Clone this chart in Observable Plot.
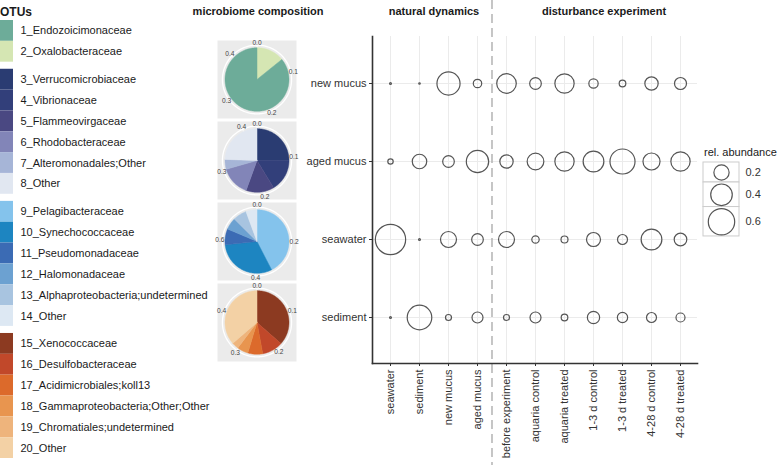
<!DOCTYPE html>
<html><head><meta charset="utf-8">
<script src="https://cdn.jsdelivr.net/npm/d3@7"></script>
<script src="https://cdn.jsdelivr.net/npm/@observablehq/plot@0.6"></script>
<style>
body{margin:0;background:#fff;font-family:"Liberation Sans",Arial,sans-serif;}
#chart{position:relative;width:777px;height:465px;overflow:hidden;background:#fff;}
.box{position:absolute;}
.ttl{position:absolute;font-weight:bold;font-size:11px;line-height:14px;color:#1a1a1a;white-space:nowrap;}
</style></head><body><div id="chart"></div>
<script>
// ---------- data ----------
const otuNames = ["1_Endozoicimonaceae","2_Oxalobacteraceae","3_Verrucomicrobiaceae","4_Vibrionaceae","5_Flammeovirgaceae","6_Rhodobacteraceae","7_Alteromonadales;Other","8_Other","9_Pelagibacteraceae","10_Synechococcaceae","11_Pseudomonadaceae","12_Halomonadaceae","13_Alphaproteobacteria;undetermined","14_Other","15_Xenococcaceae","16_Desulfobacteraceae","17_Acidimicrobiales;koll13","18_Gammaproteobacteria;Other;Other","19_Chromatiales;undetermined","20_Other"];
const otuColors = ["#6dac99","#d5e6b3","#2a3c72","#323f7a","#4a4882","#8285b8","#a6b5d7","#e1e7f1","#84c3ec","#1d85c1","#3b6bb4","#6ca1d1","#a8c4e0","#dde8f3","#8c3a21","#c1482a","#dc6a2b","#e8954f","#eeb47c","#f3d1a5"];
const otuGroup = [0,0,1,1,1,1,1,1,2,2,2,2,2,2,3,3,3,3,3,3];

const sampleRows = ["new mucus","aged mucus","seawater","sediment"];
const columns = ["seawater","sediment","new mucus","aged mucus","before experiment","aquaria control","aquaria treated","1-3 d control","1-3 d treated","4-28 d control","4-28 d treated"];

const abundNewMucus  = [0.003,0.002,0.46,0.061,0.33,0.117,0.32,0.075,0.038,0.153,0.124];
const abundAgedMucus = [0.025,0.18,0.117,0.43,0.153,0.24,0.32,0.37,0.54,0.25,0.32];
const abundSeawater  = [0.79,0.003,0.22,0.117,0.22,0.047,0.042,0.169,0.086,0.37,0.137];
const abundSediment  = [0.003,0.52,0.031,0.104,0.031,0.104,0.038,0.13,0.092,0.086,0.07];

const pieNewMucusOtu  = [2,1];
const pieNewMucusVal  = [0.065,0.395];
const pieAgedMucusOtu = [3,4,5,6,7,8];
const pieAgedMucusVal = [0.1075,0.070,0.061,0.0645,0.0215,0.105];
const pieSeawaterOtu  = [9,10,11,12,13,14];
const pieSeawaterVal  = [0.336,0.244,0.064,0.048,0.055,0.044];
const pieSedimentOtu  = [15,16,17,18,19,20];
const pieSedimentVal  = [0.183,0.053,0.0375,0.028,0.017,0.182];
const pieTicksSmall = [0,0.1,0.2,0.3,0.4];
const pieTicksLarge = [0,0.2,0.4,0.6];

const sizeLegendValues = [0.2,0.4,0.6];
const groupLabels = ["microbiome composition","natural dynamics","disturbance experiment"];

// ---------- helpers ----------
const chart = document.getElementById("chart");
function place(node, left, top){ const d=document.createElement("div"); d.className="box"; d.style.left=left+"px"; d.style.top=top+"px"; d.appendChild(node); chart.appendChild(d); }
function title(text, x, top, opts={}){ const d=document.createElement("div"); d.className="ttl"; d.textContent=text; d.style.top=top+"px";
  if(opts.center){ d.style.left=x+"px"; d.style.transform="translateX(-50%)"; } else d.style.left=x+"px";
  if(opts.size) d.style.fontSize=opts.size+"px"; if(opts.normal) d.style.fontWeight="normal"; chart.appendChild(d); }
const baseStyle = {background:"none", overflow:"visible", fontFamily:"'Liberation Sans', Arial, sans-serif", color:"#1a1a1a"};

// ---------- OTU legend ----------
const gapU = 0.34;
const otuData = otuNames.map((n,i)=>({name:n, color:otuColors[i], pos:i + otuGroup[i]*gapU}));
const legendTotal = otuNames.length + (d3.max(otuGroup))*gapU;
place(Plot.plot({
  width:215, height:465, marginLeft:0, marginRight:202, marginTop:20, marginBottom:465-20-438,
  x:{domain:[0,1], axis:null}, y:{domain:[0,legendTotal], reverse:true, axis:null},
  color:{type:"identity"}, style:baseStyle,
  marks:[
    Plot.rect(otuData,{x1:0,x2:1,y1:"pos",y2:d=>d.pos+1,fill:"color"}),
    Plot.text(otuData,{x:1,y:d=>d.pos+0.5,text:"name",textAnchor:"start",dx:7,fontSize:11,fill:"#1a1a1a"})
  ]}), 0, 0);
title("OTUs", 0, 5, {size:12});

// ---------- pies ----------
const pieSpecs = [
  [sampleRows[0], pieNewMucusOtu, pieNewMucusVal, pieTicksSmall],
  [sampleRows[1], pieAgedMucusOtu, pieAgedMucusVal, pieTicksSmall],
  [sampleRows[2], pieSeawaterOtu, pieSeawaterVal, pieTicksLarge],
  [sampleRows[3], pieSedimentOtu, pieSedimentVal, pieTicksSmall]
];
const slicePts = [], tickLabels = [], tickLines = [];
for (const [sample, otus, vals, ticks] of pieSpecs) {
  const total = d3.sum(vals); let acc = 0;
  otus.forEach((o,i)=>{
    const a0 = acc/total*2*Math.PI; acc += vals[i]; const a1 = acc/total*2*Math.PI;
    const n = Math.max(2, Math.ceil((a1-a0)/(Math.PI/180)));
    const key = sample+"-"+o, color = otuColors[o-1];
    slicePts.push({sample,key,color,x:0,y:0});
    for (let k=0;k<=n;k++){ const a=a0+(a1-a0)*k/n; slicePts.push({sample,key,color,x:Math.sin(a),y:Math.cos(a)}); }
    slicePts.push({sample,key,color,x:0,y:0});
  });
  for (const t of ticks) {
    const a = t/total*2*Math.PI;
    tickLabels.push({sample,label:t.toFixed(1),x:1.16*Math.sin(a),y:1.16*Math.cos(a)});
    tickLines.push({sample,x1:Math.sin(a),y1:Math.cos(a),x2:1.08*Math.sin(a),y2:1.08*Math.cos(a)});
  }
}
const ringPts = d3.range(0,361,2).map(d=>({x:1.08*Math.sin(d*Math.PI/180), y:1.08*Math.cos(d*Math.PI/180)}));
place(Plot.plot({
  width:79, height:324, margin:0,
  x:{domain:[-1.234,1.234], axis:null}, y:{domain:[-1.227,1.227], axis:null},
  fy:{domain:sampleRows, paddingInner:0.04, paddingOuter:0, axis:null, label:null},
  color:{type:"identity"}, style:baseStyle,
  marks:[
    Plot.frame({fill:"#ebebeb", stroke:null}),
    Plot.line(ringPts,{x:"x",y:"y",stroke:"white",strokeWidth:1.3,curve:"linear"}),
    Plot.link(tickLines,{x1:"x1",y1:"y1",x2:"x2",y2:"y2",fy:"sample",stroke:"white",strokeWidth:1}),
    Plot.line(slicePts,{x:"x",y:"y",z:"key",fy:"sample",fill:"color",stroke:"color",strokeWidth:0.5,strokeLinejoin:"round"}),
    Plot.text(tickLabels,{x:"x",y:"y",fy:"sample",text:"label",fontSize:6.6,fill:"#444"})
  ]}), 217, 38);
title(groupLabels[0], 258, 4, {center:true});

// ---------- bubble chart ----------
const rOpts = {type:"sqrt", domain:[0,0.6], range:[0,13.2]};
const rowValues = [abundNewMucus, abundAgedMucus, abundSeawater, abundSediment];
const bubbles = sampleRows.flatMap((row,ri)=>columns.map((col,ci)=>({row,col,value:rowValues[ri][ci]})));
const W=777,H=465,mL=372,mR=80,mT=36,mB=102,xPad=0.6;
const step = (W-mL-mR)/(columns.length-1+2*xPad);
place(Plot.plot({
  width:W, height:H, marginLeft:mL, marginRight:mR, marginTop:mT, marginBottom:mB,
  x:{type:"point", domain:columns, padding:xPad, label:null},
  y:{type:"point", domain:sampleRows, padding:0.59, label:null},
  r:rOpts,
  style:{...baseStyle, color:"#333"},
  marks:[
    Plot.gridX({stroke:"#ebebeb", strokeOpacity:1, strokeWidth:1}),
    Plot.gridY({stroke:"#ebebeb", strokeOpacity:1, strokeWidth:1}),
    Plot.ruleX([columns[4]],{dx:-step/2, insetTop:-mT, insetBottom:-mB, stroke:"#b3b3b3", strokeWidth:1.5, strokeDasharray:"9,5"}),
    Plot.dot(bubbles,{x:"col",y:"row",r:"value",stroke:"#555",strokeWidth:1.2,fill:"none"}),
    Plot.axisY({tickSize:3, tickPadding:3, fontSize:11, label:null}),
    Plot.axisX({tickSize:3, tickPadding:3, fontSize:11, tickRotate:-90, label:null}),
    Plot.frame({anchor:"left", stroke:"#333", strokeWidth:1.6}),
    Plot.frame({anchor:"bottom", stroke:"#333", strokeWidth:1.6})
  ]}), 0, 0);
title(groupLabels[1], 434, 4, {center:true});
title(groupLabels[2], 604, 4, {center:true});

// ---------- size legend ----------
const rScale = Plot.scale({r:rOpts});
let accH = 0;
const sizeKeys = sizeLegendValues.map(v=>{ const h = Math.max(20, 2*rScale.apply(v)+3); const k={v, y1:accH, y2:accH+h}; accH+=h; return k; });
place(Plot.plot({
  width:77, height:22+accH+5, marginLeft:3, marginRight:38, marginTop:22, marginBottom:5,
  x:{domain:[0,1], axis:null}, y:{domain:[0,accH], range:[22,22+accH], axis:null},
  r:rOpts, style:{...baseStyle, color:"#333"},
  marks:[
    Plot.rect(sizeKeys,{x1:0,x2:1,y1:"y1",y2:"y2",fill:"white",stroke:"#cccccc",strokeWidth:1}),
    Plot.dot(sizeKeys,{x:0.5,y:d=>(d.y1+d.y2)/2,r:"v",stroke:"#555",strokeWidth:1.2,fill:"none"}),
    Plot.text(sizeKeys,{x:1,y:d=>(d.y1+d.y2)/2,text:d=>d.v.toFixed(1),dx:6,textAnchor:"start",fontSize:11,fill:"#333"})
  ]}), 700, 140);
title("rel. abundance", 704, 145, {normal:true, size:11});
</script></body></html>
